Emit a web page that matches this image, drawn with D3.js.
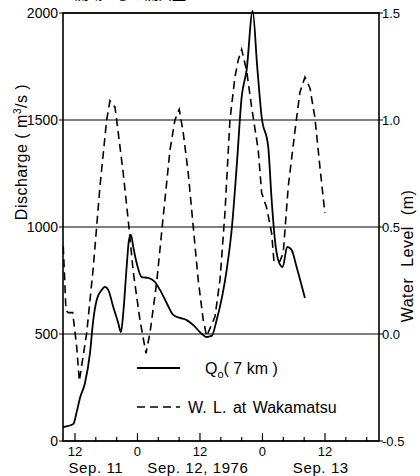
<!DOCTYPE html>
<html><head><meta charset="utf-8">
<script src="https://cdn.jsdelivr.net/npm/d3@7"></script>
<style>
html,body{margin:0;padding:0;background:#fff;}
svg{display:block;font-family:"Liberation Sans",Arial,sans-serif;}
</style></head>
<body>
<svg id="c" width="420" height="476"></svg>
<script>
// ---- data (time in hours from Sep 11 00:00) ----
const qTime  = [9.75, 11.67, 12.33, 12.96, 13.92, 14.88, 15.51, 16.17, 17.12, 17.76, 18.39, 19.35, 20.31, 20.83, 21.27, 21.92, 22.36, 22.75, 23.19, 23.84, 24.80, 26.07, 27.36, 28.32, 29.60, 30.87, 32.15, 33.44, 34.71, 35.99, 37.28, 38.24, 39.20, 41.12, 42.08, 43.04, 44.00, 44.96, 46.11, 46.99, 47.84, 49.10, 49.76, 50.39, 51.02, 51.87, 52.75, 53.59, 54.55, 56.15];
const qValue = [65, 79, 136, 201, 271, 411, 565, 659, 706, 720, 706, 626, 551, 509, 598, 813, 939, 963, 907, 832, 766, 762, 743, 706, 645, 589, 575, 565, 542, 509, 486, 491, 565, 799, 986, 1280, 1607, 1734, 2010, 1748, 1514, 1374, 1126, 939, 846, 813, 907, 893, 813, 668];

const wlTime  = [9.75, 10.27, 10.71, 11.56, 12.33, 12.83, 14.25, 15.51, 16.80, 18.08, 18.72, 19.68, 20.31, 21.27, 22.23, 23.19, 24.48, 25.63, 26.40, 27.68, 28.95, 30.24, 31.19, 32.02, 32.79, 33.75, 34.71, 35.67, 36.63, 37.28, 38.87, 39.83, 40.79, 41.75, 42.71, 43.34, 44.00, 44.96, 45.92, 47.18, 47.84, 48.80, 49.76, 50.20, 51.35, 51.99, 52.95, 54.24, 55.19, 56.15, 57.11, 58.07, 59.03, 59.98];
const wlValue = [0.41, 0.11, 0.10, 0.10, -0.06, -0.22, 0.005, 0.31, 0.69, 1.0, 1.09, 1.06, 0.94, 0.75, 0.53, 0.29, 0.065, -0.09, 0.005, 0.24, 0.55, 0.86, 1.0, 1.05, 0.94, 0.75, 0.50, 0.25, 0.065, -0.01, 0.08, 0.25, 0.565, 1.0, 1.2, 1.28, 1.33, 1.23, 1.06, 0.86, 0.66, 0.59, 0.47, 0.34, 0.34, 0.38, 0.69, 0.95, 1.13, 1.2, 1.15, 1.01, 0.78, 0.565];

const leftTicks  = [0, 500, 1000, 1500, 2000];
const leftLabels = ["0", "500", "1000", "1500", "2000"];
const rightTicks  = [-0.5, 0.0, 0.5, 1.0, 1.5];
const rightLabels = ["-0.5", "0.0", "0.5", "1.0", "1.5"];
const xMajor = [12, 24, 36, 48, 60];
const xMajorLabels = ["12", "0", "12", "0", "12"];
const xMinor = [16, 20, 28, 32, 40, 44, 52, 56, 64, 68];
const dateLabels = [{t: 16, s: "Sep. 11"}, {t: 35.6, s: "Sep. 12, 1976"}, {t: 59.2, s: "Sep. 13"}];

// ---- layout ----
const L = 63, R = 379, T = 13, B = 441;
const svg = d3.select("#c");
const x = d3.scaleLinear().domain([9.7, 70.37]).range([L, R]);
const yQ = d3.scaleLinear().domain([0, 2000]).range([B, T]);
const yW = d3.scaleLinear().domain([-0.5, 1.5]).range([B, T]);

// title (cut off at the top edge, as in the reference)
svg.append("text").attr("x", 25).attr("y", -1).attr("font-size", 14).attr("font-weight", "bold")
  .attr("font-family", "'Noto Sans CJK JP',sans-serif").text("3.2　上流域からの流入量");

// grid lines
svg.append("g").selectAll("line").data(leftTicks).join("line")
  .attr("x1", L - 4).attr("x2", R + 4)
  .attr("y1", d => yQ(d)).attr("y2", d => yQ(d))
  .attr("stroke", "#000").attr("stroke-width", 1.1);

// frame
svg.append("rect").attr("x", L).attr("y", T).attr("width", R - L).attr("height", B - T)
  .attr("fill", "none").attr("stroke", "#000").attr("stroke-width", 1.6);

// x ticks (inward)
svg.append("g").selectAll("line").data(xMajor).join("line")
  .attr("x1", d => x(d)).attr("x2", d => x(d)).attr("y1", B).attr("y2", B - 8)
  .attr("stroke", "#000").attr("stroke-width", 1.2);
svg.append("g").selectAll("line").data(xMinor).join("line")
  .attr("x1", d => x(d)).attr("x2", d => x(d)).attr("y1", B).attr("y2", B - 4)
  .attr("stroke", "#000").attr("stroke-width", 1.2);

svg.append("g").selectAll("text").data(xMajor).join("text")
  .attr("x", d => x(d)).attr("y", 456).attr("text-anchor", "middle").attr("font-size", 13)
  .text((d, i) => xMajorLabels[i]);
svg.append("g").selectAll("text").data(dateLabels).join("text")
  .attr("x", d => x(d.t)).attr("y", 473).attr("text-anchor", "middle").attr("font-size", 15)
  .attr("letter-spacing", 0.6).text(d => d.s);

// y labels
svg.append("g").selectAll("text").data(leftTicks).join("text")
  .attr("x", 58).attr("y", d => yQ(d) + 5).attr("text-anchor", "end").attr("font-size", 14)
  .text((d, i) => leftLabels[i]);
svg.append("g").selectAll("text").data(rightTicks).join("text")
  .attr("x", 382).attr("y", d => yW(d) + 5).attr("text-anchor", "start").attr("font-size", 13)
  .text((d, i) => rightLabels[i]);

// axis titles
svg.append("text").attr("transform", "translate(27,152) rotate(-90)").attr("text-anchor", "middle")
  .attr("font-size", 16).attr("letter-spacing", 0.5).html("Discharge ( m<tspan font-size='10' dy='-6'>3</tspan><tspan dy='6'>/s )</tspan>");
svg.append("text").attr("transform", "translate(413,256) rotate(-90)").attr("text-anchor", "middle")
  .attr("font-size", 16).attr("letter-spacing", 0.5).attr("word-spacing", 6).text("Water Level (m)");

// series
const qData = qTime.map((t, i) => [t, qValue[i]]);
const wData = wlTime.map((t, i) => [t, wlValue[i]]);
svg.append("path").datum(qData)
  .attr("d", d3.line().x(d => x(d[0])).y(d => yQ(d[1])).curve(d3.curveMonotoneX))
  .attr("fill", "none").attr("stroke", "#000").attr("stroke-width", 1.8);
svg.append("path").datum(wData)
  .attr("d", d3.line().x(d => x(d[0])).y(d => yW(d[1])))
  .attr("fill", "none").attr("stroke", "#000").attr("stroke-width", 1.6).attr("stroke-dasharray", "8,5");

// legend
svg.append("line").attr("x1", 137).attr("x2", 180).attr("y1", 368).attr("y2", 368)
  .attr("stroke", "#000").attr("stroke-width", 1.8);
svg.append("text").attr("x", 205).attr("y", 374).attr("font-size", 16)
  .html("Q<tspan font-size='11' dy='4'>o</tspan><tspan dy='-4'>( 7 km )</tspan>");
svg.append("line").attr("x1", 137).attr("x2", 180).attr("y1", 407).attr("y2", 407)
  .attr("stroke", "#000").attr("stroke-width", 1.6).attr("stroke-dasharray", "8,5");
svg.append("text").attr("x", 188).attr("y", 413).attr("font-size", 16).attr("word-spacing", 2)
  .text("W. L. at Wakamatsu");
</script>
</body></html>
